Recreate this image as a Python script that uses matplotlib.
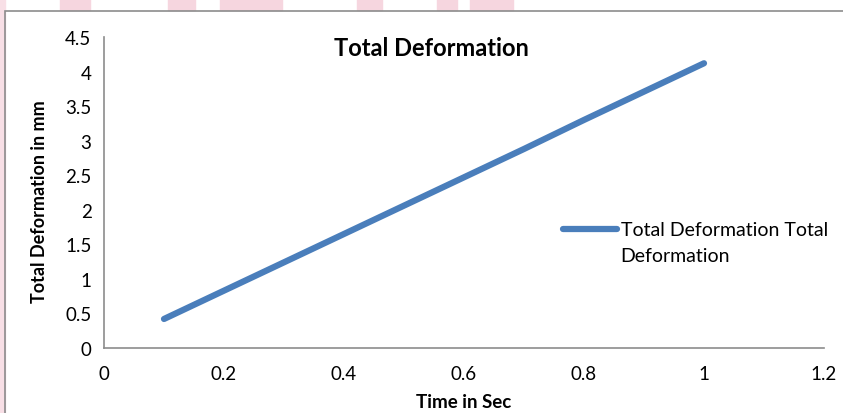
import matplotlib.pyplot as plt
from matplotlib.patches import Rectangle

# data
time_s = [0.1, 0.2, 0.3, 0.4, 0.5, 0.6, 0.7, 0.8, 0.9, 1.0]
deform_mm = [0.42, 0.83, 1.24, 1.65, 2.06, 2.47, 2.88, 3.30, 3.71, 4.12]
xticks = [0, 0.2, 0.4, 0.6, 0.8, 1, 1.2]
yticks = [0, 0.5, 1, 1.5, 2, 2.5, 3, 3.5, 4, 4.5]

plt.rcParams["font.family"] = ["Lato", "DejaVu Sans"]

W, H = 843, 414
fig = plt.figure(figsize=(W / 100, H / 100), dpi=100)
ax = fig.add_axes([104 / W, 1 - 349 / H, 720 / W, 311 / H])

# faint pink scan artifacts + chart frame
for x0, x1 in [(60, 90), (168, 195), (220, 282), (357, 382), (437, 457), (470, 513)]:
    fig.patches.append(Rectangle((x0 / W, 1 - 11 / H), (x1 - x0) / W, 11 / H,
                                 transform=fig.transFigure, color="#f6d6df", zorder=0))
fig.patches.append(Rectangle((0, 0), 5 / W, 1, transform=fig.transFigure,
                             color="#f8dfe6", zorder=0))
fig.patches.append(Rectangle((5 / W, -0.01), 1, 1 - 12 / H + 0.01, transform=fig.transFigure,
                             fill=False, edgecolor="#8c8c8c", lw=1.2, zorder=1))

# legend label wraps in the original; handle sits on the first line
ax.plot(time_s, deform_mm, color="#4a7ebb", lw=4.5, solid_capstyle="round",
        label="Total Deformation Total")

ax.set_xlim(0, 1.2)
ax.set_ylim(0, 4.5)
ax.set_xticks(xticks)
ax.set_xticklabels([str(t) for t in xticks])
ax.set_yticks(yticks)
ax.set_yticklabels([str(t) for t in yticks])
ax.tick_params(length=0, labelsize=13.5, pad=12)
ax.tick_params(axis="y", pad=9)
for s in ["top", "right"]:
    ax.spines[s].set_visible(False)
for s in ["left", "bottom"]:
    ax.spines[s].set_color("#8c8c8c")
    ax.spines[s].set_linewidth(1.2)

fig.text(431 / W, 1 - 48 / H, "Total Deformation", ha="center", va="center",
         fontsize=17, fontweight="bold")
fig.text(464 / W, 1 - 403 / H, "Time in Sec", ha="center", va="center",
         fontsize=13.5, fontweight="bold")
fig.text(40 / W, 1 - 202 / H, "Total Deformation in mm", ha="center", va="center",
         rotation=90, fontsize=13, fontweight="bold")

leg = ax.legend(loc="center left", bbox_to_anchor=(553 / W, 1 - 231 / H),
                bbox_transform=fig.transFigure, frameon=False, fontsize=14,
                handlelength=2.8, handletextpad=0.2, borderpad=0)
fig.text(620 / W, 1 - 257 / H, "Deformation", ha="left", va="center", fontsize=14)

fig.savefig("out.png", dpi=100)
